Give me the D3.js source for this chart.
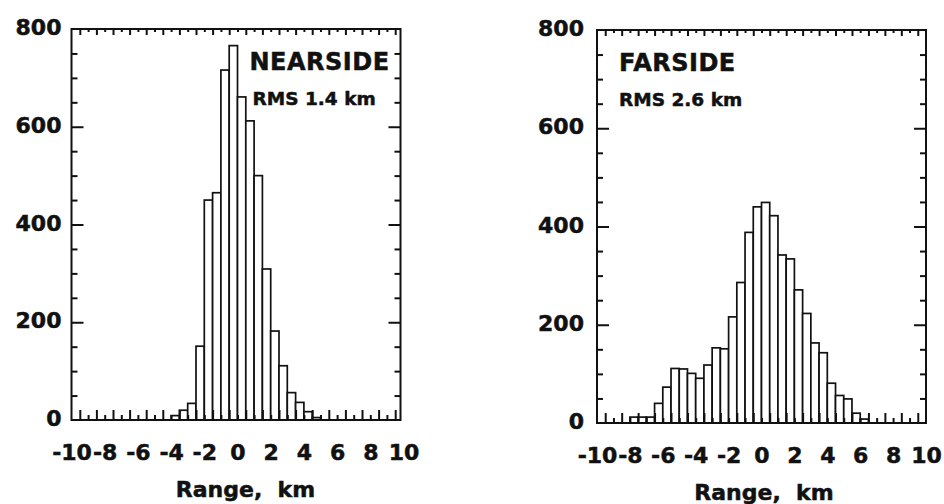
<!DOCTYPE html>
<html>
<head>
<meta charset="utf-8">
<script src="https://cdnjs.cloudflare.com/ajax/libs/d3/7.8.5/d3.min.js"></script>
<style>
    body { margin: 0; background: #fff; }
    svg { display: block; font-family: "DejaVu Sans", sans-serif; font-weight: bold; }
    svg text { stroke: #111; stroke-width: 0.5px; }
</style>
</head>
<body>
<svg id="chart" width="944" height="504"></svg>
<script>
// histogram counts, bins 0.5 km wide, listed from the lower edge of the first bin
var binWidth = 0.5;
var nearFirstBin = -4.0;
var nearCounts = [9, 20, 34, 151, 450, 465, 716, 766, 661, 612, 500, 309, 182, 111, 56, 36, 17, 5];
var farFirstBin = -8.0;
var farCounts = [12, 12, 12, 40, 73, 111, 110, 101, 91, 118, 153, 151, 216, 286, 388, 440, 449,
                 422, 342, 334, 271, 223, 163, 143, 81, 56, 49, 20, 8];

var xTickLabels = [-10, -8, -6, -4, -2, 0, 2, 4, 6, 8, 10];
var yTickLabels = [0, 200, 400, 600, 800];
var panelNames = ["NEARSIDE", "FARSIDE"];
var rmsLabels = ["RMS 1.4 km", "RMS 2.6 km"];
var xTitle = "Range,  km";

var svg = d3.select("#chart");

// layout of the two panels (pixels)
var panels = [
    {first: nearFirstBin, counts: nearCounts, name: panelNames[0], rms: rmsLabels[0],
     left: 71.5, top: 29, xLen: 332, frameW: 329, h: 391, yPad: 10,
     nameX: 178, rmsX: 181, titleX: 174},
    {first: farFirstBin, counts: farCounts, name: panelNames[1], rms: rmsLabels[1],
     left: 597, top: 30, xLen: 329, frameW: 329, h: 393, yPad: 13,
     nameX: 22, rmsX: 22, titleX: 167}
];

panels.forEach(function(p) {
    var g = svg.append("g").attr("transform", "translate(" + p.left + "," + p.top + ")");

    var x = d3.scaleLinear().domain([-10, 10]).range([0, p.xLen]);
    var y = d3.scaleLinear().domain([0, 800]).range([p.h, 0]);

    // bars
    g.selectAll("rect.bar")
        .data(p.counts)
        .enter().append("rect")
        .attr("class", "bar")
        .attr("x", function(d, i) { return x(p.first + i * binWidth); })
        .attr("width", x(binWidth) - x(0))
        .attr("y", function(d) { return y(d); })
        .attr("height", function(d) { return p.h - y(d); })
        .style("fill", "#fff")
        .style("stroke", "#111")
        .style("stroke-width", 1.7);

    // minor x ticks every half km, inside the frame
    var xMinor = d3.range(-9.5, 10, 0.5).filter(function(v) { return x(v) < p.frameW - 2; });
    var isHalf = function(v) { return Math.abs(v % 1) === 0.5; };

    var bottom = g.append("g")
        .attr("transform", "translate(0," + p.h + ")")
        .call(d3.axisBottom(x).tickValues(xMinor).tickSize(-10).tickFormat(""));
    bottom.selectAll(".tick line").attr("y2", function(v) { return isHalf(v) ? -10 : -5; });

    var topAx = g.append("g")
        .call(d3.axisTop(x).tickValues(xMinor).tickSize(-6).tickFormat(""));
    topAx.selectAll(".tick line").attr("y2", function(v) { return isHalf(v) ? 6 : 3; });

    var yMinor = d3.range(50, 800, 50);
    var leftAx = g.append("g")
        .call(d3.axisLeft(y).tickValues(yMinor).tickSize(-6).tickFormat(""));
    leftAx.selectAll(".tick line").attr("x2", function(v) { return v % 200 === 0 ? 12 : 6; });

    var rightAx = g.append("g")
        .attr("transform", "translate(" + p.frameW + ",0)")
        .call(d3.axisRight(y).tickValues(yMinor).tickSize(-6).tickFormat(""));
    rightAx.selectAll(".tick line").attr("x2", function(v) { return v % 200 === 0 ? -12 : -6; });

    [bottom, topAx, leftAx, rightAx].forEach(function(a) {
        a.select(".domain").remove();
        a.selectAll(".tick line").style("stroke", "#111").style("stroke-width", 2);
    });

    // frame
    g.append("rect")
        .attr("width", p.frameW)
        .attr("height", p.h)
        .style("fill", "none")
        .style("stroke", "#111")
        .style("stroke-width", 2);

    // tick labels (plain hyphen as minus sign)
    var xLab = g.append("g")
        .attr("transform", "translate(0," + p.h + ")")
        .call(d3.axisBottom(x).tickValues(xTickLabels).tickSize(0)
            .tickFormat(function(d) { return String(d); }));
    xLab.select(".domain").remove();
    xLab.selectAll("text")
        .attr("y", 40).attr("dy", 0)
        .attr("font-size", 22).attr("font-family", "DejaVu Sans").attr("font-weight", "bold")
        .style("fill", "#111");

    var yLab = g.append("g")
        .call(d3.axisLeft(y).tickValues(yTickLabels).tickSize(0).tickPadding(p.yPad));
    yLab.select(".domain").remove();
    yLab.selectAll("text")
        .attr("dy", "0.25em")
        .attr("font-size", 22).attr("font-family", "DejaVu Sans").attr("font-weight", "bold")
        .style("fill", "#111");

    // panel annotations
    g.append("text")
        .attr("x", p.nameX).attr("y", 41)
        .attr("font-size", 24).style("letter-spacing", "0.5px")
        .style("fill", "#111")
        .text(p.name);
    g.append("text")
        .attr("x", p.rmsX).attr("y", 76)
        .attr("font-size", 18.5)
        .style("fill", "#111")
        .text(p.rms);

    g.append("text")
        .attr("x", p.titleX).attr("y", p.h + 77)
        .attr("text-anchor", "middle")
        .attr("font-size", 22)
        .style("fill", "#111")
        .style("white-space", "pre")
        .text(xTitle);
});
</script>
</body>
</html>
